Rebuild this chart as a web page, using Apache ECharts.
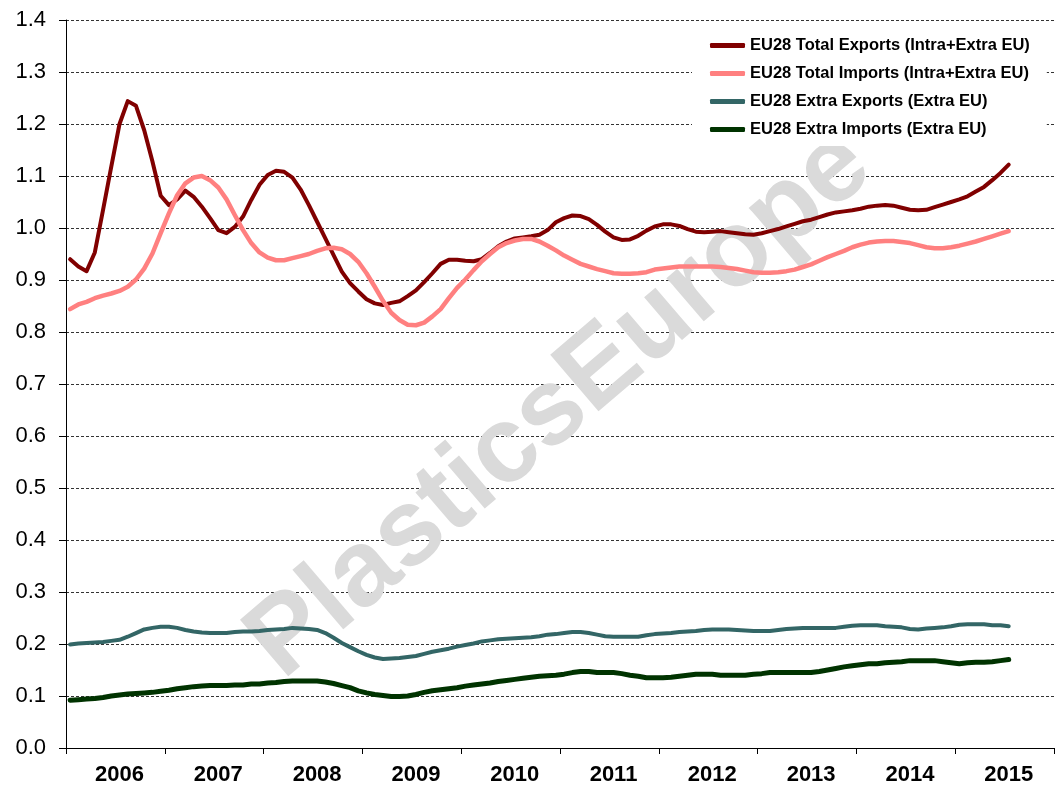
<!DOCTYPE html>
<html>
<head>
    <meta charset="utf-8">
    <script src="https://cdn.jsdelivr.net/npm/echarts@6/dist/echarts.min.js"></script>
    <style>
        body { margin: 0; background: #fff; }
    </style>
</head>
<body>
    <div id="main" style="width: 1055px;height:786px;"></div>
    <script type="text/javascript">
        // monthly index, Jan 2006 .. Jul 2015
        var years = ['2006', '2007', '2008', '2009', '2010', '2011', '2012', '2013', '2014', '2015'];
        var months = [];
        years.forEach(function (y) {
            for (var m = 1; m <= 12; m++) months.push(y + '-' + (m < 10 ? '0' + m : m));
        });

        var seriesNames = [
            'EU28 Total Exports (Intra+Extra EU)',
            'EU28 Total Imports (Intra+Extra EU)',
            'EU28 Extra Exports (Extra EU)',
            'EU28 Extra Imports (Extra EU)'
        ];

        var totalExports = [
            0.940, 0.926, 0.917, 0.953, 1.035, 1.118, 1.200, 1.244, 1.235, 1.188,
            1.128, 1.062, 1.044, 1.055, 1.072, 1.060, 1.041, 1.019, 0.996, 0.990,
            1.002, 1.022, 1.054, 1.083, 1.102, 1.110, 1.108, 1.097, 1.074, 1.044,
            1.012, 0.980, 0.948, 0.916, 0.894, 0.878, 0.863, 0.855, 0.852, 0.856,
            0.859, 0.869, 0.880, 0.896, 0.913, 0.931, 0.939, 0.939, 0.937, 0.936,
            0.940, 0.952, 0.965, 0.974, 0.980, 0.982, 0.984, 0.987, 0.996, 1.011,
            1.019, 1.024, 1.023, 1.017, 1.006, 0.993, 0.982, 0.977, 0.978, 0.985,
            0.995, 1.003, 1.007, 1.007, 1.004, 0.998, 0.993, 0.992, 0.993, 0.994,
            0.992, 0.990, 0.988, 0.987, 0.990, 0.994, 0.998, 1.003, 1.008, 1.013,
            1.016, 1.021, 1.026, 1.030, 1.032, 1.034, 1.037, 1.041, 1.043, 1.044,
            1.043, 1.039, 1.035, 1.034, 1.035, 1.040, 1.045, 1.050, 1.055, 1.061,
            1.070, 1.079, 1.092, 1.106, 1.122
        ];
        var totalImports = [
            0.844, 0.853, 0.858, 0.865, 0.870, 0.874, 0.879, 0.887, 0.901, 0.922,
            0.951, 0.990, 1.028, 1.063, 1.086, 1.097, 1.100, 1.092, 1.078, 1.055,
            1.025, 0.996, 0.971, 0.953, 0.943, 0.938, 0.938, 0.942, 0.946, 0.950,
            0.956, 0.961, 0.962, 0.959, 0.950, 0.935, 0.913, 0.887, 0.860, 0.837,
            0.823, 0.814, 0.813, 0.818, 0.830, 0.844, 0.865, 0.885, 0.901, 0.919,
            0.936, 0.950, 0.963, 0.971, 0.976, 0.979, 0.979, 0.974, 0.966, 0.957,
            0.947, 0.939, 0.931, 0.926, 0.921, 0.917, 0.913, 0.912, 0.912, 0.913,
            0.915, 0.920, 0.922, 0.924, 0.926, 0.926, 0.926, 0.926, 0.926, 0.925,
            0.923, 0.921, 0.918, 0.915, 0.914, 0.914, 0.915, 0.917, 0.920, 0.925,
            0.930, 0.937, 0.944, 0.950, 0.956, 0.963, 0.968, 0.972, 0.974, 0.975,
            0.975, 0.973, 0.971, 0.967, 0.963, 0.961, 0.961, 0.963, 0.966, 0.970,
            0.974, 0.979, 0.984, 0.989, 0.994
        ];
        var extraExports = [
            0.199, 0.201, 0.202, 0.203, 0.204, 0.206, 0.208, 0.214, 0.221, 0.228,
            0.231, 0.233, 0.233, 0.231, 0.227, 0.224, 0.222, 0.221, 0.221, 0.221,
            0.223, 0.224, 0.224, 0.225, 0.227, 0.228, 0.229, 0.231, 0.230, 0.229,
            0.227, 0.221, 0.212, 0.202, 0.194, 0.186, 0.179, 0.174, 0.171, 0.172,
            0.173, 0.175, 0.177, 0.181, 0.185, 0.188, 0.191, 0.195, 0.198, 0.201,
            0.205, 0.207, 0.209, 0.210, 0.211, 0.212, 0.213, 0.215, 0.218, 0.219,
            0.221, 0.223, 0.223, 0.221, 0.218, 0.215, 0.214, 0.214, 0.214, 0.214,
            0.217, 0.219, 0.220, 0.221, 0.223, 0.224, 0.225, 0.227, 0.228, 0.228,
            0.228, 0.227, 0.226, 0.225, 0.225, 0.225, 0.227, 0.229, 0.230, 0.231,
            0.231, 0.231, 0.231, 0.231, 0.233, 0.235, 0.236, 0.236, 0.236, 0.234,
            0.233, 0.232, 0.229, 0.228, 0.230, 0.231, 0.232, 0.234, 0.237, 0.238,
            0.238, 0.238, 0.236, 0.236, 0.234
        ];
        var extraImports = [
            0.092, 0.093, 0.094, 0.095, 0.097, 0.100, 0.102, 0.104, 0.105, 0.106,
            0.107, 0.109, 0.111, 0.114, 0.116, 0.118, 0.119, 0.120, 0.120, 0.120,
            0.121, 0.121, 0.123, 0.123, 0.125, 0.126, 0.128, 0.129, 0.129, 0.129,
            0.129, 0.127, 0.124, 0.120, 0.116, 0.110, 0.106, 0.103, 0.101, 0.099,
            0.099, 0.100, 0.103, 0.107, 0.110, 0.112, 0.114, 0.116, 0.119, 0.121,
            0.123, 0.125, 0.128, 0.130, 0.132, 0.134, 0.136, 0.138, 0.139, 0.140,
            0.142, 0.145, 0.147, 0.147, 0.145, 0.145, 0.145, 0.143, 0.140, 0.138,
            0.135, 0.135, 0.135, 0.136, 0.138, 0.140, 0.142, 0.142, 0.142, 0.140,
            0.140, 0.140, 0.140, 0.142, 0.143, 0.145, 0.145, 0.145, 0.145, 0.145,
            0.145, 0.147, 0.150, 0.153, 0.156, 0.158, 0.160, 0.162, 0.162, 0.164,
            0.165, 0.166, 0.168, 0.168, 0.168, 0.168, 0.166, 0.164, 0.162, 0.164,
            0.165, 0.165, 0.166, 0.168, 0.170
        ];

        var colors = ['#800000', '#ff8080', '#336666', '#003300'];
        var widths = [4, 4.5, 4, 5];
        var values = [totalExports, totalImports, extraExports, extraImports];

        var font = '"Liberation Sans", Arial, sans-serif';

        var myChart = echarts.init(document.getElementById('main'));

        var option = {
            animation: false,
            backgroundColor: '#fff',
            grid: {
                left: 66, right: 1, top: 20, bottom: 38,
                containLabel: false,
                outerBoundsMode: 'none'
            },
            legend: {
                orient: 'vertical',
                left: 692,
                top: 29,
                padding: [8, 17, 8, 18],
                backgroundColor: '#fff',
                itemGap: 11,
                itemWidth: 35,
                itemHeight: 5,
                icon: 'roundRect',
                data: seriesNames,
                textStyle: {
                    fontFamily: font,
                    fontSize: 16.5,
                    fontWeight: 'bold',
                    color: '#000',
                    lineHeight: 16
                },
                z: 10
            },
            xAxis: {
                type: 'category',
                data: months,
                boundaryGap: true,
                axisLine: { show: true, lineStyle: { color: '#000', width: 1 } },
                axisTick: {
                    show: true,
                    length: 6,
                    interval: function (index) { return index % 12 === 0; },
                    lineStyle: { color: '#000' }
                },
                axisLabel: {
                    interval: function (index) { return index % 12 === 6; },
                    formatter: function (v) { return v.slice(0, 4); },
                    fontFamily: font,
                    fontSize: 22,
                    fontWeight: 'bold',
                    color: '#000',
                    margin: 16
                },
                splitLine: { show: false }
            },
            yAxis: {
                type: 'value',
                min: 0,
                max: 1.4,
                interval: 0.1,
                axisLine: { show: true, lineStyle: { color: '#000', width: 1 } },
                axisTick: { show: true, length: 7, lineStyle: { color: '#000' } },
                axisLabel: {
                    formatter: function (v) { return v.toFixed(1); },
                    fontFamily: font,
                    fontSize: 22,
                    color: '#000',
                    margin: 20
                },
                splitLine: {
                    show: true,
                    lineStyle: { color: '#333', width: 1, type: [3, 2] }
                }
            },
            graphic: [{
                type: 'text',
                x: 560,
                y: 405,
                rotation: 40.5 * Math.PI / 180,
                z: 1,
                silent: true,
                style: {
                    text: 'PlasticsEurope',
                    font: 'bold 108px ' + font,
                    fill: '#dadada',
                    align: 'center',
                    verticalAlign: 'middle'
                }
            }],
            series: seriesNames.map(function (name, k) {
                return {
                    name: name,
                    type: 'line',
                    data: values[k],
                    symbol: 'none',
                    smooth: false,
                    z: 5,
                    itemStyle: { color: colors[k] },
                    lineStyle: { color: colors[k], width: widths[k], cap: 'round', join: 'round' }
                };
            })
        };

        myChart.setOption(option);
    </script>
</body>
</html>
